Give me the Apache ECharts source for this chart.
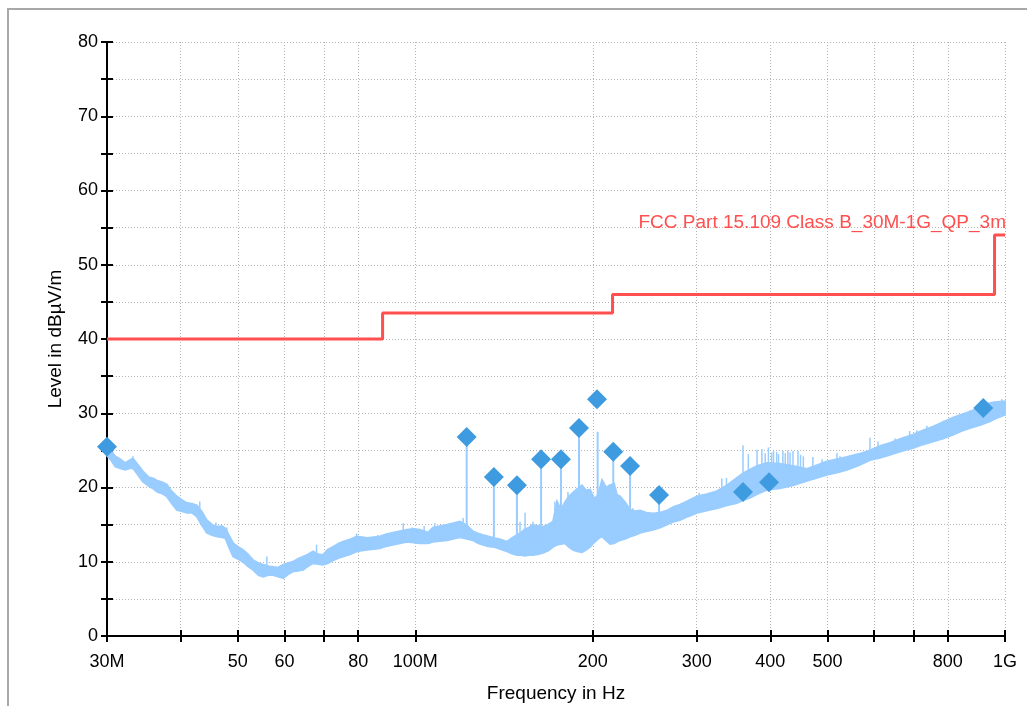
<!DOCTYPE html>
<html><head><meta charset="utf-8">
<script src="https://cdn.jsdelivr.net/npm/echarts@6/dist/echarts.min.js"></script>
<style>html,body{margin:0;padding:0;background:#fff}#c{width:1027px;height:706px}</style>
</head><body><div id="c"></div>
<script>
// ---- data (frequencies in MHz, levels in dBµV/m) ----
const traceFreq = [30.0,30.4,31.0,31.6,32.2,32.8,33.2,33.8,34.5,35.3,36.0,36.5,37.2,37.9,38.6,39.4,40.2,41.0,41.8,42.6,43.4,44.3,45.2,46.1,47.0,47.6,48.4,49.1,50.0,51.0,52.0,53.1,54.2,55.2,56.3,57.4,58.5,59.7,60.8,62.0,63.2,64.5,65.8,67.1,68.4,69.7,71.0,72.5,74.0,75.4,77.5,79.6,81.2,82.8,85.0,87.1,89.3,91.6,94.2,96.8,99.3,101.8,105.1,107.1,110.0,113.2,116.0,119.0,122.2,125.2,127.7,130.2,133.0,135.9,139.4,143.0,145.8,148.7,151.0,153.5,155.9,158.3,161.3,164.6,168.0,171.2,173.9,176.6,179.4,182.2,185.1,188.0,191.7,194.7,197.8,201.0,204.2,207.3,210.6,213.9,217.3,219.8,222.4,226.8,231.3,235.8,240.5,246.5,253.0,260.0,267.2,274.0,281.1,290.0,300.3,312.0,324.7,337.7,351.1,359.5,369.5,379.7,394.8,415.4,437.0,461.6,480.0,499.0,519.0,539.5,565.0,590.2,614.0,638.1,668.0,698.1,726.0,754.8,785.0,816.1,843.0,872.3,907.0,943.3,970.0,1000];
const traceHigh = [25.3,25.0,24.2,23.8,23.3,23.7,23.9,23.1,22.2,21.4,21.2,20.9,20.7,20.4,19.5,18.8,18.3,17.9,17.8,17.6,16.8,15.6,15.0,14.7,14.8,14.5,13.4,12.5,12.0,11.6,11.0,10.2,9.8,9.6,9.4,9.3,9.2,9.6,9.8,10.0,10.4,10.7,11.0,11.4,11.0,10.9,11.6,12.0,12.4,12.7,13.0,13.4,13.3,13.2,13.3,13.4,13.7,13.9,14.1,14.3,14.4,14.3,13.9,14.6,14.8,15.0,15.2,15.4,14.9,14.1,13.8,13.6,13.4,13.2,13.0,12.7,13.2,13.6,13.9,14.4,14.6,15.0,14.8,14.7,15.0,15.4,18.1,17.0,18.0,18.8,19.3,19.8,20.3,19.6,19.7,18.5,19.0,21.0,20.0,20.3,20.5,19.0,18.8,18.0,17.0,16.8,16.9,16.6,16.5,16.6,16.9,17.4,17.7,18.2,18.8,19.1,19.5,20.3,21.3,21.9,22.4,22.9,23.3,23.2,22.9,22.5,23.0,23.5,23.8,24.1,24.5,25.0,25.6,26.0,26.6,27.1,27.7,28.2,28.8,29.4,29.8,30.2,30.8,31.4,31.5,31.6];
const traceLow = [24.3,23.8,22.8,22.6,22.4,22.6,22.6,21.8,20.8,20.2,19.8,19.4,19.2,18.8,17.9,17.0,16.8,16.6,16.6,16.1,15.0,13.9,13.6,13.4,13.3,13.2,11.8,10.7,10.4,10.0,9.4,8.9,8.2,8.0,8.2,8.2,8.0,7.8,8.3,8.7,8.8,8.9,9.4,9.8,9.7,9.6,9.8,10.2,10.5,10.7,11.0,11.4,11.5,11.6,11.7,11.8,12.1,12.3,12.5,12.7,12.6,12.5,12.5,12.7,12.8,12.9,13.1,13.3,13.1,12.9,12.5,12.3,12.1,12.0,11.7,11.4,11.1,10.9,10.9,10.8,10.9,10.9,11.0,11.2,11.5,12.0,12.3,12.4,12.5,12.0,11.6,11.4,11.3,11.6,12.0,12.6,13.1,13.4,12.9,12.4,12.5,12.7,12.9,13.1,13.4,13.6,13.9,14.1,14.3,14.6,15.0,15.4,15.6,16.1,16.6,16.9,17.2,17.6,17.9,18.3,18.6,19.1,19.7,19.9,20.3,20.9,21.3,21.7,22.0,22.4,23.0,23.7,24.0,24.4,24.9,25.3,25.8,26.2,26.6,27.1,27.6,28.0,28.4,28.9,29.4,29.8];

// narrow peaks of the trace (stems under the markers and noise spikes)
const spikeFreq = [122.2,135.9,148.7,163.4,176.6,189.5,203.8,216.6,231.3,259.0,
  33.2,43.1,45.9,47.9,56.0,68.0,74.2,79.5,86.4,95.4,98.8,103.5,107.9,120.5,150.5,153.5,158.3,172.5,181.5,233.9,
  303.0,331.0,337.0,359.5,367.0,379.7,387.0,392.0,397.0,402.0,405.0,410.0,413.0,420.1,424.0,428.3,432.0,437.0,445.6,450.0,455.0,472.2,489.6,518.8,
  525.0,560.0,590.2,609.0,651.0,689.0,709.0,737.0,786.0,847.0,872.0,897.0,960.0,987.0];
const spikeBase = [14.0,12.5,12.0,12.5,14.0,15.0,15.0,15.0,14.5,15.0,
  22.8,16.2,14.0,13.5,8.5,10.0,11.0,11.5,12.2,12.8,13.2,13.0,12.8,13.5,11.5,11.5,11.5,13.0,14.0,14.0,
  17.0,17.5,17.8,19.0,19.2,19.5,20.0,20.0,20.0,20.2,20.2,20.5,20.5,20.5,20.5,20.5,20.6,20.8,21.0,21.0,21.2,21.5,21.8,22.2,
  22.4,22.8,24.0,24.4,25.0,25.4,26.0,26.2,26.8,27.8,28.3,28.8,29.6,29.9];
const spikeTop = [26.8,21.4,20.3,23.8,23.8,28.0,27.5,24.8,22.9,19.0,
  24.2,18.1,15.3,14.6,10.7,12.3,12.6,13.8,13.6,15.2,14.6,14.8,15.2,15.9,15.4,16.6,15.4,18.1,19.4,17.2,
  19.3,21.2,21.3,25.7,24.5,25.1,25.2,24.6,25.4,24.7,24.9,24.8,24.5,24.9,24.6,25.0,24.7,24.9,25.0,24.4,24.2,24.1,23.8,24.6,
  24.2,24.4,26.7,26.2,26.6,27.6,27.7,28.3,29.0,29.8,30.4,30.5,31.6,31.9];
const spikeWidth = spikeFreq.map((f,i)=> i < 10 ? 2 : 1.5);

const markerFreq = [30.0,122.2,135.9,148.7,163.4,176.6,189.5,203.3,216.6,231.3,259.0,359.5,397.9,918.5];
const markerLevel = [25.5,26.8,21.4,20.3,23.8,23.8,28.0,31.9,24.8,22.9,19.0,19.4,20.7,30.7];

const limitFreq = [30, 88, 216, 960, 1000];
const limitLevel = [40, 43.5, 46, 54, 54];
const limitName = 'FCC Part 15.109 Class B_30M-1G_QP_3m';

const xTickFreq = [30,40,50,60,70,80,100,200,300,400,500,600,700,800,1000];
const xLabelFreq = [30,50,60,80,100,200,300,400,500,800,1000];
const xLabelText = ['30M','50','60','80','100M','200','300','400','500','800','1G'];
const yLabels = ['0','10','20','30','40','50','60','70','80'];

// ---- chart ----
const L = Math.log10;
const FONT = '"Liberation Sans", Arial, sans-serif';
const TRACE = '#99ccff';
const gridRect = {left:107, right:22, top:42, bottom:70};

function xLabel(v){
  const f = Math.round(Math.pow(10, v));
  const i = xLabelFreq.indexOf(f);
  return i >= 0 ? xLabelText[i] : '';
}
function yLabel(v){
  const s = String(Math.round(v));
  return yLabels.indexOf(s) >= 0 ? s : '';
}

const chart = echarts.init(document.getElementById('c'), null, {renderer:'canvas'});
chart.setOption({
  animation:false,
  backgroundColor:'#ffffff',
  graphic:[{type:'rect', silent:true, z:-10, shape:{x:8, y:9, width:1100, height:800},
            style:{fill:'transparent', stroke:'#a8a8a8', lineWidth:2}}],
  grid:[Object.assign({outerBoundsMode:'none'}, gridRect), Object.assign({outerBoundsMode:'none'}, gridRect)],
  xAxis:[{
    type:'value', gridIndex:0, min:L(30), max:3,
    axisLine:{show:true, onZero:false, lineStyle:{color:'#000', width:2}},
    axisTick:{show:true, customValues:xTickFreq.map(L), length:6, lineStyle:{color:'#000', width:2}},
    axisLabel:{customValues:xLabelFreq.map(L), formatter:xLabel, margin:17, color:'#000', fontSize:18, fontFamily:FONT, hideOverlap:false},
    splitLine:{show:true, lineStyle:{color:'#b4b4b4', type:[1,2], width:1}},
    name:'Frequency in Hz', nameLocation:'middle', nameGap:48,
    nameTextStyle:{color:'#000', fontSize:19, fontFamily:FONT}
  },{
    type:'value', gridIndex:1, min:L(30), max:3,
    axisLine:{show:false},
    axisTick:{show:true, inside:true, customValues:xTickFreq.map(L), length:6, lineStyle:{color:'#000', width:2}},
    axisLabel:{show:false}, splitLine:{show:false}
  }],
  yAxis:[{
    type:'value', gridIndex:0, min:0, max:80, interval:5,
    axisLine:{show:true, onZero:false, lineStyle:{color:'#000', width:2}},
    axisTick:{show:true, length:6, lineStyle:{color:'#000', width:2}},
    axisLabel:{formatter:yLabel, margin:9, color:'#000', fontSize:18, fontFamily:FONT},
    splitLine:{show:true, lineStyle:{color:'#b4b4b4', type:[1,2], width:1}},
    name:'Level in dB\u00b5V/m', nameLocation:'middle', nameGap:42, nameRotate:90,
    nameTextStyle:{color:'#000', fontSize:19, fontFamily:FONT}
  },{
    type:'value', gridIndex:1, min:0, max:80, interval:5,
    axisLine:{show:false},
    axisTick:{show:true, inside:true, length:6, lineStyle:{color:'#000', width:2}},
    axisLabel:{show:false}, splitLine:{show:false}
  }],
  series:[{
    type:'custom', name:'trace', xAxisIndex:0, yAxisIndex:0, z:2, silent:true,
    data:[[2, 20]],
    renderItem:function(params, api){
      const pts = [];
      for (let i = 0; i < traceFreq.length; i++) pts.push(api.coord([L(traceFreq[i]), traceHigh[i]]));
      for (let i = traceFreq.length - 1; i >= 0; i--) pts.push(api.coord([L(traceFreq[i]), traceLow[i]]));
      return {type:'polygon', shape:{points:pts}, style:{fill:TRACE, stroke:TRACE, lineWidth:2, lineJoin:'miter'}};
    }
  },{
    type:'custom', name:'spikes', xAxisIndex:0, yAxisIndex:0, z:2, silent:true,
    data:spikeFreq.map((f,i)=>[L(f), spikeBase[i], spikeTop[i], spikeWidth[i]]),
    encode:{x:0, y:[1,2]},
    renderItem:function(params, api){
      const a = api.coord([api.value(0), api.value(1)]);
      const b = api.coord([api.value(0), api.value(2)]);
      return {type:'line', shape:{x1:a[0], y1:a[1], x2:b[0], y2:b[1]}, style:{stroke:TRACE, lineWidth:api.value(3)}};
    }
  },{
    type:'line', name:'limit', xAxisIndex:0, yAxisIndex:0, z:3, silent:true,
    step:'end', symbol:'none',
    data:limitFreq.map((f,i)=>[L(f), limitLevel[i]]),
    lineStyle:{color:'#ff4f4f', width:3},
    markPoint:{
      symbol:'circle', symbolSize:0, silent:true,
      data:[{coord:[L(limitFreq[limitFreq.length-1]), limitLevel[limitLevel.length-1]]}],
      label:{show:true, formatter:limitName, position:'left', distance:0, offset:[1,-12],
             color:'#ff4f4f', fontSize:19, fontFamily:FONT}
    }
  },{
    type:'scatter', name:'peaks', xAxisIndex:0, yAxisIndex:0, z:4, silent:true,
    symbol:'diamond', symbolSize:20,
    data:markerFreq.map((f,i)=>[L(f), markerLevel[i]]),
    itemStyle:{color:'#3f9be0', opacity:1}
  }]
});
</script>
</body></html>
